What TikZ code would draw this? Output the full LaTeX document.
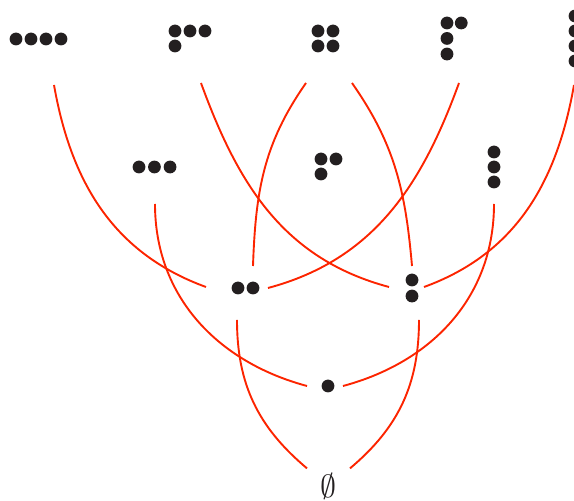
\documentclass[tikz,border=0pt]{standalone}
\usetikzlibrary{calc}
\definecolor{linkred}{RGB}{252,36,0}
\definecolor{dotgray}{RGB}{35,31,32}

\begin{document}
\begin{tikzpicture}[x=1pt,y=1pt,
  part/.style={inner sep=0pt,minimum size=0pt},
  link/.style={draw=linkred,line width=1.9pt}]
  \useasboundingbox (0,0) rectangle (574,501);

  % each partition sits at its first cell
  \node[part] (p4) at (16,462) {};
  \node[part] (p31) at (175,470) {};
  \node[part] (p22) at (318,470) {};
  \node[part] (p211) at (447,478) {};
  \node[part] (p1111) at (575,485) {};
  \node[part] (p3) at (139,334) {};
  \node[part] (p21) at (321,342) {};
  \node[part] (p111) at (494,349) {};
  \node[part] (p2) at (238,213) {};
  \node[part] (p11) at (412,221) {};
  \node[part] (p1) at (328,115) {};
  \node[inner sep=0pt,scale=3.2,anchor=base,text=dotgray] (e) at (328,3) {$\emptyset$};

  \foreach \n/\cells in {p4/{0/0,1/0,2/0,3/0}, p31/{0/0,1/0,2/0,0/1},
      p22/{0/0,1/0,0/1,1/1}, p211/{0/0,0.95/0,0/1.03,0/2.07},
      p1111/{0/0,0/1,0/2,0/3}, p3/{0/0,1.03/0,2.07/0}, p21/{0/0,1/0,0/1},
      p111/{0/0,0/1,0/2}, p2/{0/0,1/0}, p11/{0/0,0/1.07}, p1/{0/0}}
    \foreach \c/\r in \cells
      \fill[dotgray] ($(\n)+(15*\c,-15*\r)$) circle (6.4);

  \draw[link] ([shift={(-21,5)}]e.north) to[out=140,in=-90] ([shift={(-1,-32)}]p2.center);
  \draw[link] ([shift={(22,5)}]e.north) to[out=40,in=-90] ([shift={(7,-40)}]p11.center);
  \draw[link] ([shift={(-21,0)}]p1.center) to[out=165,in=-90] ([shift={(16,-37)}]p3.center);
  \draw[link] ([shift={(15,0)}]p1.center) to[out=15,in=-90] ([shift={(0,-52)}]p111.center);
  \draw[link] ([shift={(-32,1)}]p2.center) to[out=160,in=-80] ([shift={(38,-46)}]p4.center);
  \draw[link] ([shift={(15,22)}]p2.center) to[out=88,in=-125] ([shift={(-12,-52)}]p22.center);
  \draw[link] ([shift={(30,0)}]p2.center) to[out=15,in=-110] ([shift={(12,-60)}]p211.center);
  \draw[link] ([shift={(-23,-7)}]p11.center) to[out=165,in=-70] ([shift={(26,-52)}]p31.center);
  \draw[link] ([shift={(0,14)}]p11.center) to[out=95,in=-55] ([shift={(34,-52)}]p22.center);
  \draw[link] ([shift={(12,-7)}]p11.center) to[out=20,in=-100] ([shift={(-1,-69)}]p1111.center);
\end{tikzpicture}
\end{document}
